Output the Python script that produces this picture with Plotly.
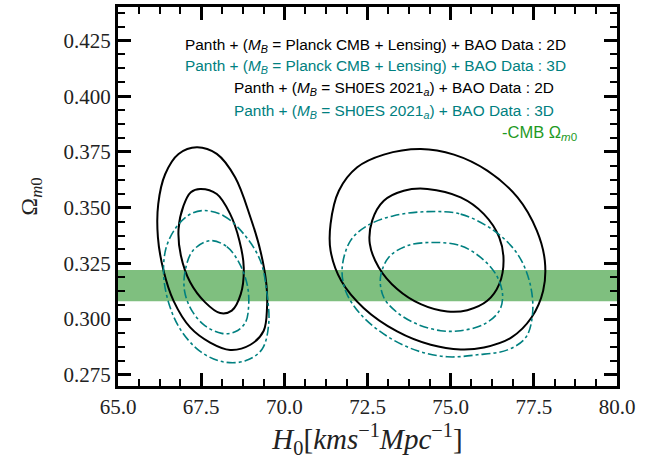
import plotly.graph_objects as go

# ---------------- data ----------------
# Planck CMB + Lensing, 2D (black)  -- outer (2 sigma) and inner (1 sigma)
pl2d_out_h0 = [67.37, 67.97, 68.52, 68.98, 69.28, 69.46, 69.48, 69.38, 68.98, 68.37, 67.77, 67.17, 66.67, 66.37, 66.20, 66.21, 66.42, 66.82, 67.37]
pl2d_out_om = [0.3771, 0.3741, 0.3636, 0.3457, 0.3307, 0.3157, 0.3052, 0.2948, 0.2885, 0.2862, 0.2895, 0.2963, 0.3082, 0.3217, 0.3367, 0.3517, 0.3651, 0.3741, 0.3771]
pl2d_in_h0 = [67.47, 67.97, 68.37, 68.65, 68.78, 68.69, 68.42, 68.07, 67.62, 67.17, 66.89, 66.82, 66.97, 67.19, 67.47]
pl2d_in_om = [0.3584, 0.3561, 0.3472, 0.3352, 0.3232, 0.3112, 0.3038, 0.3027, 0.3075, 0.3165, 0.3285, 0.3404, 0.3509, 0.3569, 0.3584]

# Planck CMB + Lensing, 3D (teal)
pl3d_out_h0 = [67.57, 68.17, 68.78, 69.28, 69.48, 69.53, 69.33, 68.83, 68.17, 67.47, 66.87, 66.52, 66.37, 66.45, 66.75, 67.15, 67.57]
pl3d_out_om = [0.3487, 0.3464, 0.3382, 0.3262, 0.3112, 0.2978, 0.2865, 0.2813, 0.2808, 0.2855, 0.2955, 0.3075, 0.3202, 0.3322, 0.3412, 0.3469, 0.3487]
pl3d_in_h0 = [67.77, 68.27, 68.65, 68.88, 68.93, 68.83, 68.52, 68.12, 67.62, 67.22, 67.00, 67.02, 67.25, 67.77]
pl3d_in_om = [0.3352, 0.3325, 0.3250, 0.3157, 0.3068, 0.2985, 0.2943, 0.2936, 0.2970, 0.3038, 0.3127, 0.3217, 0.3307, 0.3352]

# SH0ES 2021, 2D (black)
sh2d_out_h0 = [74.10, 75.10, 76.10, 77.01, 77.59, 77.83, 77.78, 77.43, 76.83, 76.00, 75.30, 74.40, 73.39, 72.39, 71.71, 71.39, 71.39, 71.64, 72.19, 72.99, 74.10]
sh2d_out_om = [0.3763, 0.3738, 0.3666, 0.3546, 0.3397, 0.3262, 0.3127, 0.3007, 0.2918, 0.2873, 0.2864, 0.2885, 0.2945, 0.3049, 0.3172, 0.3307, 0.3427, 0.3576, 0.3681, 0.3738, 0.3763]
sh2d_in_h0 = [74.30, 75.30, 76.00, 76.46, 76.59, 76.46, 76.10, 75.50, 74.90, 74.10, 73.39, 72.84, 72.57, 72.64, 72.99, 73.59, 74.30]
sh2d_in_om = [0.3584, 0.3546, 0.3471, 0.3367, 0.3262, 0.3157, 0.3082, 0.3040, 0.3034, 0.3067, 0.3135, 0.3232, 0.3337, 0.3442, 0.3531, 0.3576, 0.3584]

# SH0ES 2021, 3D (teal)
sh3d_out_h0 = [74.30, 75.30, 76.30, 77.01, 77.39, 77.46, 77.26, 76.71, 75.80, 74.90, 74.00, 73.09, 72.29, 71.84, 71.74, 71.99, 72.49, 73.29, 74.30]
sh3d_out_om = [0.3482, 0.3471, 0.3397, 0.3292, 0.3157, 0.3022, 0.2918, 0.2862, 0.2840, 0.2831, 0.2858, 0.2923, 0.3022, 0.3127, 0.3232, 0.3352, 0.3419, 0.3464, 0.3482]
sh3d_in_h0 = [74.50, 75.30, 75.90, 76.355, 76.56, 76.46, 76.00, 75.30, 74.70, 74.00, 73.39, 72.99, 72.89, 73.14, 73.69, 74.50]
sh3d_in_om = [0.3344, 0.3329, 0.3277, 0.3202, 0.3112, 0.3037, 0.2977, 0.2948, 0.2948, 0.2977, 0.3030, 0.3097, 0.3187, 0.3277, 0.3329, 0.3344]

# CMB Omega_m0 band
cmb_om = 0.315
cmb_err = 0.007

# ticks
x_ticks = [65.0, 67.5, 70.0, 72.5, 75.0, 77.5, 80.0]
y_ticks = [0.275, 0.300, 0.325, 0.350, 0.375, 0.400, 0.425]

legend_labels = [
    "Panth + (<i>M</i><sub><i>B</i></sub> = Planck CMB + Lensing) + BAO Data : 2D",
    "Panth + (<i>M</i><sub><i>B</i></sub> = Planck CMB + Lensing) + BAO Data : 3D",
    "Panth + (<i>M</i><sub><i>B</i></sub> = SH0ES 2021<sub><i>a</i></sub>) + BAO Data : 2D",
    "Panth + (<i>M</i><sub><i>B</i></sub> = SH0ES 2021<sub><i>a</i></sub>) + BAO Data : 3D",
    "-CMB Ω<sub><i>m</i>0</sub>",
]

BLACK = "black"
TEAL = "#008080"
GREEN = "#1f9a1f"

fig = go.Figure()

def contour(x, y, color, dash, width):
    fig.add_trace(go.Scatter(x=x, y=y, mode="lines",
                             line=dict(color=color, dash=dash, width=width, shape="spline", smoothing=1.0),
                             showlegend=False, hoverinfo="skip"))

contour(pl2d_out_h0, pl2d_out_om, BLACK, "solid", 2)
contour(pl2d_in_h0, pl2d_in_om, BLACK, "solid", 2)
contour(pl3d_out_h0, pl3d_out_om, TEAL, "dashdot", 1.6)
contour(pl3d_in_h0, pl3d_in_om, TEAL, "dashdot", 1.6)
contour(sh2d_out_h0, sh2d_out_om, BLACK, "solid", 2)
contour(sh2d_in_h0, sh2d_in_om, BLACK, "solid", 2)
contour(sh3d_out_h0, sh3d_out_om, TEAL, "dashdot", 1.6)
contour(sh3d_in_h0, sh3d_in_om, TEAL, "dashdot", 1.6)

fig.add_shape(type="rect", xref="paper", x0=0, x1=1, yref="y",
              y0=cmb_om - cmb_err, y1=cmb_om + cmb_err,
              fillcolor="rgba(0,128,0,0.5)", line=dict(width=0), layer="below")

label_colors = [BLACK, TEAL, BLACK, TEAL, GREEN]
label_sizes = [15.4, 15.4, 15.4, 15.4, 16.5]
label_x = [78.52, 78.52, 78.16, 78.16, 78.86]
label_y = [0.4227, 0.4133, 0.4034, 0.3931, 0.3837]
for txt, c, s, lx, ly in zip(legend_labels, label_colors, label_sizes, label_x, label_y):
    fig.add_annotation(x=lx, y=ly, xref="x", yref="y", text=txt, showarrow=False,
                       xanchor="right", yanchor="middle",
                       font=dict(family="Liberation Sans, Arial, sans-serif", size=s, color=c))

axis_common = dict(
    showline=True, linewidth=3, linecolor="black", mirror="allticks",
    ticks="inside", ticklen=13, tickwidth=2.5, tickcolor="black",
    showgrid=False, zeroline=False,
    tickfont=dict(family="Liberation Serif, serif", size=21, color="#222"),
)

fig.update_xaxes(range=[65, 80], tickvals=x_ticks, ticktext=[f"{v:.1f}" for v in x_ticks],
                 minor=dict(ticks="inside", ticklen=7, tickwidth=1.5, tickcolor="black", dtick=0.625, tick0=65),
                 title=dict(text="<i>H</i><sub>0</sub>[<i>kms</i><sup>−1</sup><i>Mpc</i><sup>−1</sup>]",
                            font=dict(family="Liberation Serif, serif", size=29, color="#222"), standoff=2),
                 **axis_common)
fig.update_yaxes(range=[0.27, 0.44], tickvals=y_ticks, ticktext=[f"{v:.3f}" for v in y_ticks],
                 minor=dict(ticks="inside", ticklen=7, tickwidth=1.5, tickcolor="black", dtick=0.00625, tick0=0.275),
                 title=dict(text="Ω<sub><i>m</i>0</sub>",
                            font=dict(family="Liberation Serif, serif", size=24, color="#222"), standoff=20),
                 **axis_common)

fig.update_layout(width=650, height=462, margin=dict(l=118, r=33, t=7, b=76, autoexpand=False),
                  plot_bgcolor="white", paper_bgcolor="white", showlegend=False)

fig.write_html("out.html", config={"displayModeBar": False},
               post_script="document.body.style.margin='0';")
